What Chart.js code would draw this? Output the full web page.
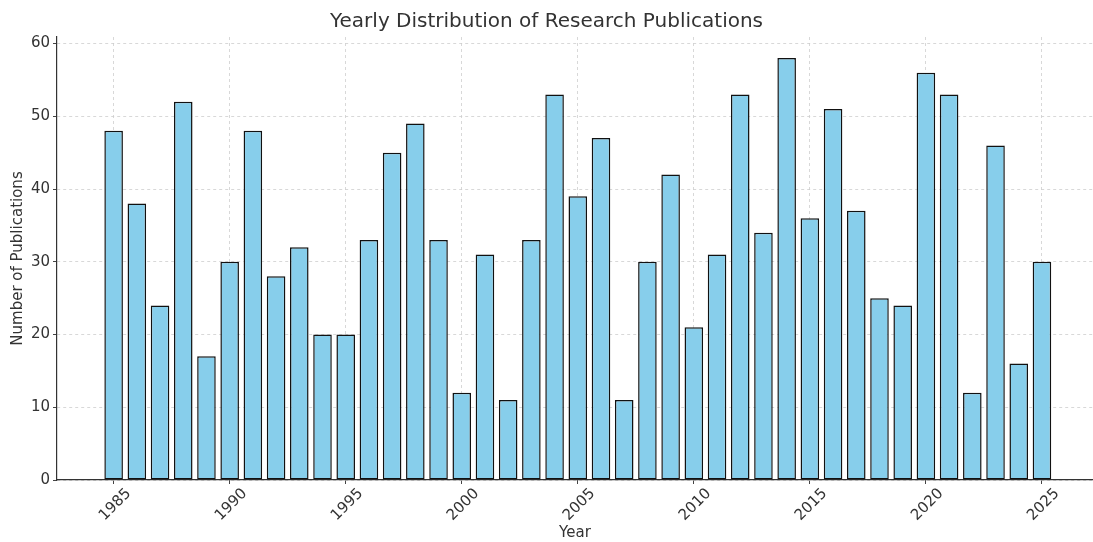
<!DOCTYPE html>
<html>
<head>
<meta charset="utf-8">
<script src="https://cdn.jsdelivr.net/npm/chart.js@4.4.1/dist/chart.umd.min.js"></script>
<style>
  html, body { margin: 0; padding: 0; background: #fff; }
  #wrap { width: 1093px; height: 542px; }
</style>
</head>
<body>
<div id="wrap"><canvas id="chart"></canvas></div>
<script>
'use strict';

// data
const years = [1985, 1986, 1987, 1988, 1989, 1990, 1991, 1992, 1993, 1994,
  1995, 1996, 1997, 1998, 1999, 2000, 2001, 2002, 2003, 2004,
  2005, 2006, 2007, 2008, 2009, 2010, 2011, 2012, 2013, 2014,
  2015, 2016, 2017, 2018, 2019, 2020, 2021, 2022, 2023, 2024, 2025];
const publications = [48, 38, 24, 52, 17, 30, 48, 28, 32, 20,
  20, 33, 45, 49, 33, 12, 31, 11, 33, 53,
  39, 47, 11, 30, 42, 21, 31, 53, 34, 58,
  36, 51, 37, 25, 24, 56, 53, 12, 46, 16, 30];
const xTicks = [1985, 1990, 1995, 2000, 2005, 2010, 2015, 2020, 2025];
const yTicks = [0, 10, 20, 30, 40, 50, 60];

const textColor = '#333333';
const font = 'DejaVu Sans';

const points = years.map((y, i) => ({ x: y, y: publications[i] }));

const ctx = document.getElementById('chart');
new Chart(ctx, {
  type: 'bar',
  data: {
    datasets: [{
      label: 'Publications',
      data: points,
      backgroundColor: '#87ceeb',
      borderColor: '#111111',
      borderWidth: 1.5,
      borderSkipped: false,
      barPercentage: 0.8,
      categoryPercentage: 1.0
    }]
  },
  options: {
    responsive: true,
    maintainAspectRatio: false,
    animation: false,
    layout: { padding: 0 },
    plugins: {
      legend: { display: false },
      tooltip: { enabled: false },
      title: {
        display: true,
        text: 'Yearly Distribution of Research Publications',
        color: textColor,
        font: { family: font, size: 20, weight: 'normal', lineHeight: 1.2 },
        padding: { top: 10, bottom: 3 }
      }
    },
    scales: {
      x: {
        type: 'linear',
        min: 1982.56,
        max: 2027.2,
        offset: false,
        afterBuildTicks: s => { s.ticks = xTicks.map(v => ({ value: v })); },
        afterFit: s => { s.height = 62; },
        ticks: {
          color: textColor,
          font: { family: font, size: 15 },
          minRotation: 45,
          maxRotation: 45,
          labelOffset: 15,
          padding: 1,
          callback: v => String(v)
        },
        grid: {
          color: '#cfcfcf',
          lineWidth: 0.8,
          offset: false,
          drawTicks: true,
          tickLength: 4,
          tickColor: '#444',
          tickWidth: 1
        },
        border: { display: true, color: '#333', width: 1.2, dash: [3, 3] },
        title: {
          display: true,
          text: 'Year',
          color: textColor,
          font: { family: font, size: 15 },
          padding: { top: 0, bottom: 0 }
        }
      },
      y: {
        min: 0,
        max: 60.9,
        afterBuildTicks: s => { s.ticks = yTicks.map(v => ({ value: v })); },
        afterFit: s => { s.width = 57; },
        ticks: {
          color: textColor,
          font: { family: font, size: 15 },
          padding: 3
        },
        grid: {
          color: '#cfcfcf',
          lineWidth: 0.8,
          tickLength: 4,
          tickColor: '#444',
          tickWidth: 1
        },
        border: { display: true, color: '#333', width: 1.2, dash: [3, 3] },
        title: {
          display: true,
          text: 'Number of Publications',
          color: textColor,
          font: { family: font, size: 15 },
          padding: { top: 9, bottom: 0 }
        }
      }
    }
  }
});
</script>
</body>
</html>
